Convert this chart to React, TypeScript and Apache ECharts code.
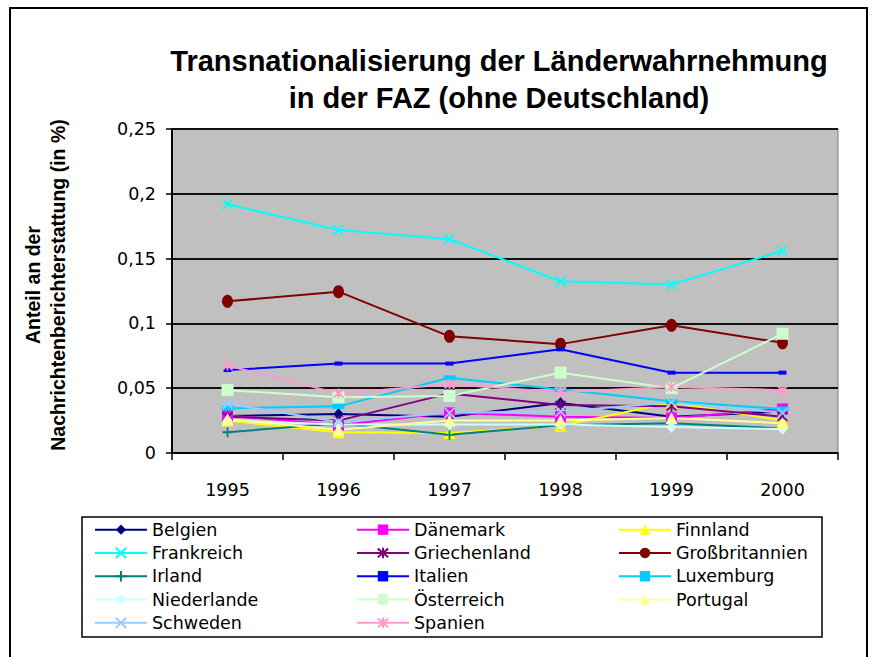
import React, { useEffect, useRef } from "react";
import * as echarts from "echarts";

const years = ["1995", "1996", "1997", "1998", "1999", "2000"];
const yTickLabels: Record<string, string> = { "0": "0", "0.05": "0,05", "0.1": "0,1", "0.15": "0,15", "0.2": "0,2", "0.25": "0,25" };

const belgien = [0.0285, 0.03, 0.028, 0.0385, 0.028, 0.032];
const daenemark = [0.029, 0.0215, 0.031, 0.028, 0.027, 0.034];
const finnland = [0.025, 0.016, 0.0155, 0.021, 0.039, 0.025];
const frankreich = [0.192, 0.172, 0.165, 0.1325, 0.13, 0.156];
const griechenland = [0.028, 0.025, 0.046, 0.037, 0.036, 0.028];
const grossbritannien = [0.117, 0.1245, 0.09, 0.084, 0.0985, 0.085];
const irland = [0.016, 0.023, 0.014, 0.0215, 0.023, 0.019];
const italien = [0.064, 0.069, 0.069, 0.08, 0.062, 0.062];
const luxemburg = [0.0345, 0.036, 0.058, 0.049, 0.04, 0.034];
const niederlande = [0.025, 0.022, 0.022, 0.022, 0.02, 0.0185];
const oesterreich = [0.0485, 0.043, 0.044, 0.062, 0.05, 0.092];
const portugal = [0.026, 0.018, 0.025, 0.025, 0.027, 0.023];
const schweden = [0.038, 0.024, 0.031, 0.032, 0.039, 0.031];
const spanien = [0.0675, 0.046, 0.053, 0.047, 0.051, 0.0485];

const X_PATH = "path://M0,0L10,10M10,0L0,10";
const STAR_PATH = "path://M0,0L10,10M10,0L0,10M5,-1L5,11";
const PLUS_PATH = "path://M5,0L5,10M0,5L10,5";

type Def = { name: string; data: number[]; color: string; symbol: string; size: number | number[]; stroke?: boolean };

const defs: Def[] = [
  { name: "Belgien", data: belgien, color: "#000080", symbol: "diamond", size: [10, 12] },
  { name: "Dänemark", data: daenemark, color: "#FF00FF", symbol: "rect", size: 11 },
  { name: "Finnland", data: finnland, color: "#FFFF00", symbol: "triangle", size: 12 },
  { name: "Frankreich", data: frankreich, color: "#00FFFF", symbol: X_PATH, size: 10, stroke: true },
  { name: "Griechenland", data: griechenland, color: "#800080", symbol: STAR_PATH, size: 10, stroke: true },
  { name: "Großbritannien", data: grossbritannien, color: "#800000", symbol: "circle", size: [11, 13] },
  { name: "Irland", data: irland, color: "#008080", symbol: PLUS_PATH, size: 10, stroke: true },
  { name: "Italien", data: italien, color: "#0000FF", symbol: "rect", size: [8, 4] },
  { name: "Luxemburg", data: luxemburg, color: "#00CCFF", symbol: "rect", size: [12, 5] },
  { name: "Niederlande", data: niederlande, color: "#CCFFFF", symbol: "diamond", size: [10, 12] },
  { name: "Österreich", data: oesterreich, color: "#CCFFCC", symbol: "rect", size: 12 },
  { name: "Portugal", data: portugal, color: "#FFFF99", symbol: "triangle", size: 12 },
  { name: "Schweden", data: schweden, color: "#99CCFF", symbol: X_PATH, size: 10, stroke: true },
  { name: "Spanien", data: spanien, color: "#FF99CC", symbol: STAR_PATH, size: 10, stroke: true },
];

export default function App() {
  const ref = useRef<HTMLDivElement>(null);
  useEffect(() => {
    document.body.style.margin = "0";
    const chart = echarts.init(ref.current!, null, { renderer: "svg" });
    const font = "DejaVu Sans";
    chart.setOption({
      animation: false,
      backgroundColor: "#ffffff",
      graphic: [
        {
          type: "rect",
          shape: { x: 10, y: 8, width: 857, height: 700 },
          style: { fill: "none", stroke: "#000", lineWidth: 2 },
          z: 0,
        },
        {
          type: "rect",
          shape: { x: 82, y: 517, width: 740, height: 120 },
          style: { fill: "none", stroke: "#000", lineWidth: 1.5 },
          z: 0,
        },
        {
          type: "text",
          x: 499,
          y: 42,
          style: {
            text: "Transnationalisierung der Länderwahrnehmung\nin der FAZ (ohne Deutschland)",
            textAlign: "center",
            textVerticalAlign: "top",
            font: "bold 29px 'Liberation Sans'",
            lineHeight: 37,
            fill: "#000",
          },
        },
        {
          type: "text",
          x: 45,
          y: 285,
          rotation: Math.PI / 2,
          style: {
            text: "Anteil an der\nNachrichtenberichterstattung (in %)",
            textAlign: "center",
            textVerticalAlign: "middle",
            font: "bold 19.5px 'Liberation Sans'",
            lineHeight: 25,
            fill: "#000",
          },
        },
      ],
      grid: {
        left: 172,
        top: 129,
        width: 666,
        height: 324,
        show: true,
        backgroundColor: "#C0C0C0",
        borderColor: "#808080",
        borderWidth: 1,
      },
      legend: {
        left: 94,
        top: 518,
        width: 800,
        padding: 0,
        itemGap: 0,
        itemWidth: 52,
        itemHeight: 13,
        textStyle: { fontFamily: font, fontSize: 17.5, color: "#000", width: 204, lineHeight: 23.3 },
        data: defs.map((d) => d.name),
      },
      xAxis: {
        type: "category",
        data: years,
        boundaryGap: true,
        axisLine: { lineStyle: { color: "#000", width: 1.5 } },
        axisTick: { show: true, length: 7, inside: false, lineStyle: { color: "#000", width: 1.5 } },
        axisLabel: { fontFamily: font, fontSize: 17.5, color: "#000", margin: 28 },
        splitLine: { show: false },
      },
      yAxis: {
        type: "value",
        min: 0,
        max: 0.25,
        interval: 0.05,
        axisLine: { show: true, lineStyle: { color: "#000", width: 2 } },
        axisTick: { show: true, length: 6, lineStyle: { color: "#000", width: 1.5 } },
        axisLabel: {
          fontFamily: font,
          fontSize: 17.5,
          color: "#000",
          margin: 16,
          formatter: (v: number) => yTickLabels[String(Math.round(v * 100) / 100)] ?? String(v),
        },
        splitLine: { show: true, lineStyle: { color: "#111", width: 2 } },
      },
      series: defs.map((d) => ({
        name: d.name,
        type: "line",
        data: d.data,
        symbol: d.symbol,
        symbolSize: d.size,
        showSymbol: true,
        lineStyle: { color: d.color, width: 2 },
        itemStyle: d.stroke
          ? { color: d.color, borderColor: d.color, borderWidth: 1.8 }
          : { color: d.color, borderWidth: 0 },
        emphasis: { disabled: true },
      })),
    });
    return () => chart.dispose();
  }, []);
  return <div ref={ref} style={{ width: 874, height: 657 }} />;
}
